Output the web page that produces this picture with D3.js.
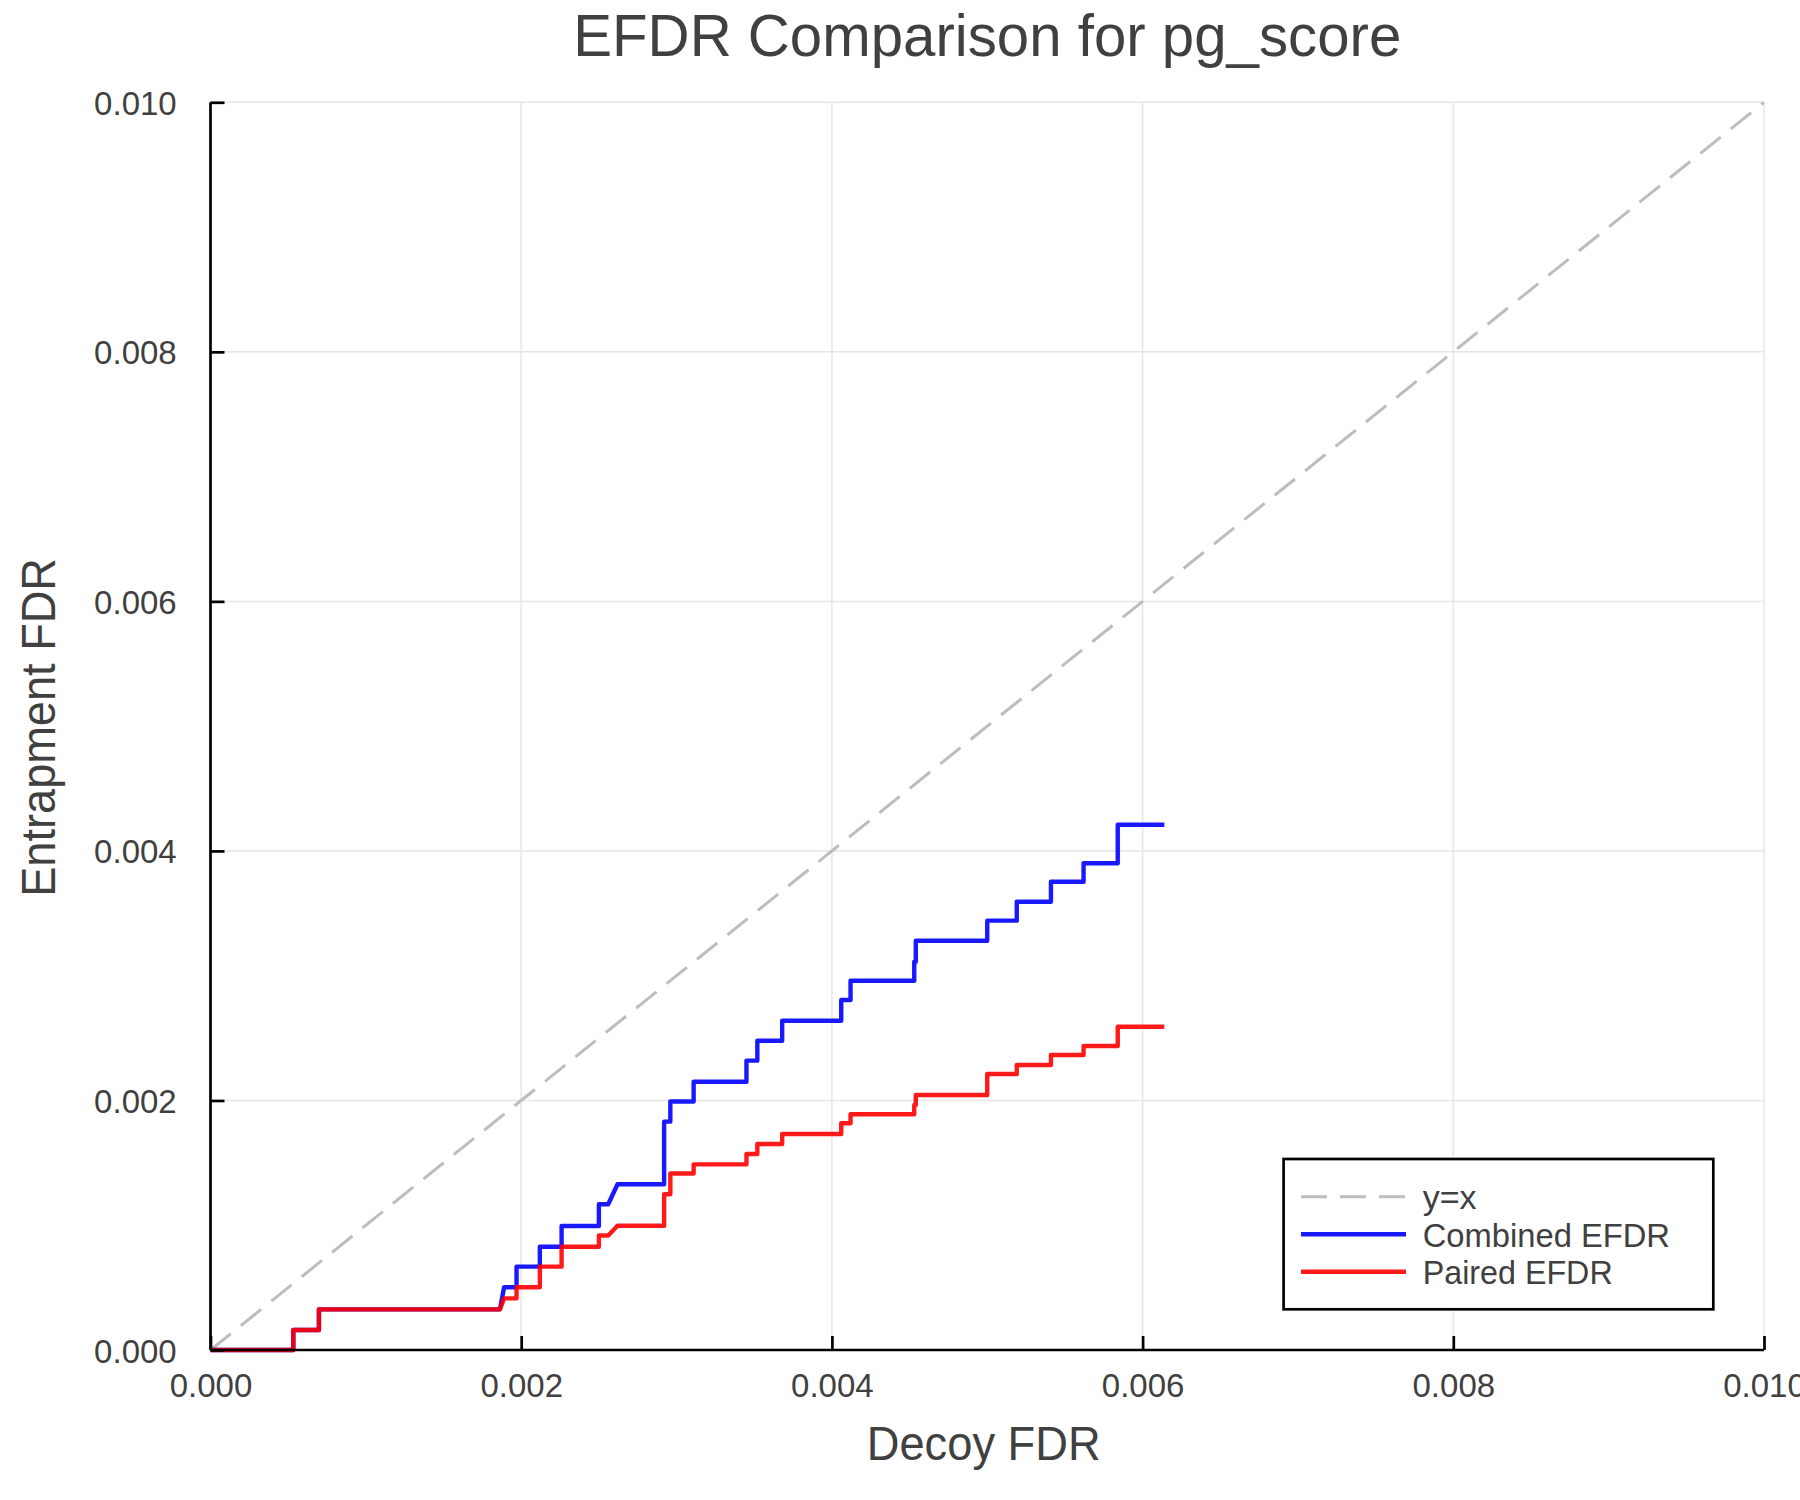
<!DOCTYPE html>
<html>
<head>
<meta charset="utf-8">
<script src="https://cdn.jsdelivr.net/npm/d3@7"></script>
<style>
  html, body { margin: 0; padding: 0; background: #fff; }
  svg { display: block; }
  text { font-family: "Liberation Sans", Arial, Helvetica, sans-serif; fill: #404040; }
</style>
</head>
<body>
<svg id="chart" width="1800" height="1500"></svg>
<script>
// ---- data ----
const titleText = "EFDR Comparison for pg_score";
const xLabel = "Decoy FDR";
const yLabel = "Entrapment FDR";
const xTicks = [0, 0.002, 0.004, 0.006, 0.008, 0.010];
const yTicks = [0, 0.002, 0.004, 0.006, 0.008, 0.010];
const legendLabels = ["y=x", "Combined EFDR", "Paired EFDR"];

const identityX = [0, 0.010];
const identityY = [0, 0.010];

const combinedX = [0, 0.000533, 0.000533, 0.000698, 0.000698, 0.001863, 0.00189, 0.00197, 0.00197, 0.00212, 0.00212, 0.00226, 0.00226, 0.00250, 0.00250, 0.00256, 0.00262, 0.00292, 0.00292, 0.00296, 0.00296, 0.00311, 0.00311, 0.00345, 0.00345, 0.00352, 0.00352, 0.00368, 0.00368, 0.00406, 0.00406, 0.00412, 0.00412, 0.00453, 0.00453, 0.00454, 0.00454, 0.00500, 0.00500, 0.00519, 0.00519, 0.00541, 0.00541, 0.00562, 0.00562, 0.00584, 0.00584, 0.00614];
const combinedY = [0, 0, 0.00016, 0.00016, 0.000326, 0.000326, 0.000503, 0.000503, 0.000668, 0.000668, 0.000828, 0.000828, 0.000994, 0.000994, 0.001168, 0.001168, 0.001328, 0.001328, 0.00183, 0.00183, 0.001992, 0.001992, 0.00215, 0.00215, 0.002319, 0.002319, 0.002479, 0.002479, 0.002639, 0.002639, 0.002805, 0.002805, 0.00296, 0.00296, 0.003112, 0.003112, 0.00328, 0.00328, 0.003441, 0.003441, 0.003593, 0.003593, 0.003753, 0.003753, 0.003901, 0.003901, 0.00421, 0.00421];

const pairedX = [0, 0.000533, 0.000533, 0.000698, 0.000698, 0.001863, 0.00189, 0.00197, 0.00197, 0.00212, 0.00212, 0.00226, 0.00226, 0.00250, 0.00250, 0.00256, 0.00262, 0.00292, 0.00292, 0.00296, 0.00296, 0.00311, 0.00311, 0.00345, 0.00345, 0.00352, 0.00352, 0.00368, 0.00368, 0.00406, 0.00406, 0.00412, 0.00412, 0.00453, 0.00453, 0.00454, 0.00454, 0.00500, 0.00500, 0.00519, 0.00519, 0.00541, 0.00541, 0.00562, 0.00562, 0.00584, 0.00584, 0.00614];
const pairedY = [0, 0, 0.00016, 0.00016, 0.000326, 0.000326, 0.000414, 0.000414, 0.000503, 0.000503, 0.000668, 0.000668, 0.000828, 0.000828, 0.000918, 0.000918, 0.000996, 0.000996, 0.001248, 0.001248, 0.001415, 0.001415, 0.001488, 0.001488, 0.001571, 0.001571, 0.001651, 0.001651, 0.001731, 0.001731, 0.001817, 0.001817, 0.001889, 0.001889, 0.001964, 0.001964, 0.002044, 0.002044, 0.002212, 0.002212, 0.002284, 0.002284, 0.002364, 0.002364, 0.002436, 0.002436, 0.002591, 0.002591];

// ---- layout ----
const W = 1800, H = 1500;
const plot = { left: 210.5, right: 1764, top: 102.3, bottom: 1350 };
const svg = d3.select("#chart");
svg.append("rect").attr("width", W).attr("height", H).attr("fill", "#fff");

const x = d3.scaleLinear().domain([0, 0.010]).range([plot.left, plot.right]);
const y = d3.scaleLinear().domain([0, 0.010]).range([plot.bottom, plot.top]);
const fmt = d3.format(".3f");

// grid
const grid = svg.append("g");
grid.selectAll("line.gx").data(xTicks.slice(1)).join("line")
  .attr("x1", d => x(d)).attr("x2", d => x(d))
  .attr("y1", plot.top).attr("y2", plot.bottom)
  .attr("stroke", "#e6e6e6").attr("stroke-width", 1.5);
grid.selectAll("line.gy").data(yTicks.slice(1)).join("line")
  .attr("y1", d => y(d)).attr("y2", d => y(d))
  .attr("x1", plot.left).attr("x2", plot.right)
  .attr("stroke", "#e6e6e6").attr("stroke-width", 1.5);

// series
const toPts = (xs, ys) => xs.map((v, i) => [v, ys[i]]);
const line = d3.line().x(d => x(d[0])).y(d => y(d[1]));

svg.append("path").datum(toPts(identityX, identityY))
  .attr("d", line).attr("fill", "none")
  .attr("stroke", "#bdbdbd").attr("stroke-width", 3)
  .attr("stroke-dasharray", "26,13");

svg.append("path").datum(toPts(combinedX, combinedY))
  .attr("d", line).attr("fill", "none")
  .attr("stroke", "#0000ff").attr("stroke-opacity", 0.9)
  .attr("stroke-width", 4.4).attr("stroke-linejoin", "round");

svg.append("path").datum(toPts(pairedX, pairedY))
  .attr("d", line).attr("fill", "none")
  .attr("stroke", "#ff0000").attr("stroke-opacity", 0.9)
  .attr("stroke-width", 4.4).attr("stroke-linejoin", "round");

// axes
const xAxis = svg.append("g").attr("transform", `translate(0,${plot.bottom})`)
  .call(d3.axisBottom(x).tickValues(xTicks).tickFormat(fmt).tickSize(-14).tickPadding(0));
const yAxis = svg.append("g").attr("transform", `translate(${plot.left},0)`)
  .call(d3.axisLeft(y).tickValues(yTicks).tickFormat(fmt).tickSize(-14).tickPadding(0));
[xAxis, yAxis].forEach(a => {
  a.select(".domain").attr("stroke", "#000").attr("stroke-width", 2.7);
  a.selectAll(".tick line").attr("stroke", "#000").attr("stroke-width", 2.7);
  a.selectAll(".tick text").attr("fill", "#404040").attr("font-size", 33)
    .attr("font-family", "'Liberation Sans', Arial, sans-serif");
});
xAxis.select(".domain").attr("d", `M${plot.left},0H${plot.right}`);
yAxis.select(".domain").attr("d", `M0,${plot.top}V${plot.bottom}`);
xAxis.selectAll(".tick text").attr("y", 47).attr("dy", null);
yAxis.selectAll(".tick text").attr("x", -(plot.left - 176.7)).attr("dy", null).attr("y", 12);

// title and labels
svg.append("text").attr("x", (plot.left + plot.right) / 2).attr("y", 56)
  .attr("text-anchor", "middle").attr("font-size", 60)
  .attr("textLength", 828).attr("lengthAdjust", "spacingAndGlyphs")
  .text(titleText);
svg.append("text").attr("x", 983.7).attr("y", 1460)
  .attr("text-anchor", "middle").attr("font-size", 49)
  .attr("textLength", 234).attr("lengthAdjust", "spacingAndGlyphs")
  .text(xLabel);
svg.append("text").attr("transform", `translate(55,727.4) rotate(-90)`)
  .attr("text-anchor", "middle").attr("font-size", 48)
  .attr("textLength", 338.7).attr("lengthAdjust", "spacingAndGlyphs")
  .text(yLabel);

// legend
const leg = svg.append("g");
leg.append("rect").attr("x", 1283.6).attr("y", 1159).attr("width", 1713.3 - 1283.6).attr("height", 1309.3 - 1159)
  .attr("fill", "#fff").attr("stroke", "#000").attr("stroke-width", 2.7);
const legStyles = [
  { color: "#bdbdbd", dash: "26,13", width: 3, op: 1 },
  { color: "#0000ff", dash: null, width: 4.4, op: 0.9 },
  { color: "#ff0000", dash: null, width: 4.4, op: 0.9 }
];
legendLabels.forEach((lab, i) => {
  const cy = 1196.7 + i * 37.5;
  leg.append("line").attr("x1", 1301).attr("x2", 1406).attr("y1", cy).attr("y2", cy)
    .attr("stroke", legStyles[i].color).attr("stroke-width", legStyles[i].width)
    .attr("stroke-opacity", legStyles[i].op)
    .attr("stroke-dasharray", legStyles[i].dash);
  leg.append("text").attr("x", 1422.7).attr("y", cy + 12.5).attr("font-size", 34)
    .attr("textLength", i === 0 ? null : (i === 1 ? 247.3 : 190))
    .attr("lengthAdjust", "spacingAndGlyphs")
    .text(lab);
});
</script>
</body>
</html>
